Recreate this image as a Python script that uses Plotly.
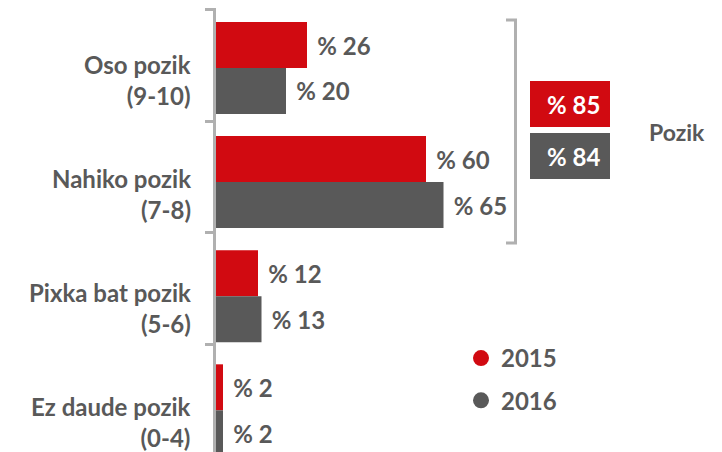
import plotly.graph_objects as go

categories = ["Oso pozik<br>(9-10)", "Nahiko pozik<br>(7-8)", "Pixka bat pozik<br>(5-6)", "Ez daude pozik<br>(0-4)"]
values_2015 = [26, 60, 12, 2]
values_2016 = [20, 65, 13, 2]
series_names = ["2015", "2016"]
pozik_totals = [85, 84]
pozik_label = "Pozik"

RED = "#D10A11"
GRAY = "#595959"
TXT = "#595959"
AXIS = "#B0B0B0"
FONT = "Lato"
FS = 24

OFF = 8  # page body margin offset
W, H = 722, 452
L, T, B = 216 - OFF, 0, 0
PH = H - T - B
PW = W - L

# vertical scales (window pixels)
BAR_STEP, BAR_C0 = 114.1, 68.0     # category spacing / first category centre
TICK_STEP, TICK_0 = 111.6, 9.5     # boundary tick spacing / first tick
top_win = OFF + T
r0 = -(BAR_C0 - top_win) / BAR_STEP
bar_range = [r0 + PH / BAR_STEP, r0]
t0 = -0.5 - (TICK_0 - top_win) / TICK_STEP
tick_range = [t0 + PH / TICK_STEP, t0]

def px(x):
    return (x - OFF - L) / PW

def py(y):
    return 1 - (y - OFF - T) / PH

fig = go.Figure()
for name, vals, col in [(series_names[0], values_2015, RED), (series_names[1], values_2016, GRAY)]:
    fig.add_trace(go.Bar(
        y=categories, x=vals, orientation="h", name=name,
        marker=dict(color=col, line=dict(width=0)),
        text=["\u00a0\u200a% " + str(v) for v in vals],
        textposition="outside",
        outsidetextfont=dict(family=FONT, size=FS, color=TXT, weight="bold"),
        cliponaxis=False, showlegend=False, hoverinfo="skip",
    ))

# carrier trace for the boundary-tick axis
fig.add_trace(go.Scatter(x=[None], y=[None], yaxis="y2", mode="markers",
                         showlegend=False, hoverinfo="skip"))

# legend entries as circles
for name, col in [(series_names[0], RED), (series_names[1], GRAY)]:
    fig.add_trace(go.Scatter(
        x=[None], y=[None], mode="markers", name=name,
        marker=dict(color=col, size=20, symbol="circle"),
        legendgroup=name, showlegend=True,
    ))

annotations = []
for c in categories:
    annotations.append(dict(
        x=0, y=c, xref="x", yref="y", text=c, showarrow=False,
        xanchor="right", yanchor="middle", align="right",
        xshift=-23, yshift=-12,
        font=dict(family=FONT, size=FS, color=TXT, weight="bold"),
    ))

# totals boxes
box_colors = [RED, GRAY]
box_tops = [81, 133]
shapes = []
for tot, col, top in zip(pozik_totals, box_colors, box_tops):
    shapes.append(dict(type="rect", xref="paper", yref="paper",
                       x0=px(530), x1=px(610), y0=py(top + 46), y1=py(top),
                       fillcolor=col, line=dict(width=0), layer="above"))
    annotations.append(dict(
        x=px(573), y=py(top + 23), xref="paper", yref="paper",
        text="% " + str(tot), showarrow=False, xanchor="center", yanchor="middle",
        font=dict(family=FONT, size=FS, color="white", weight="bold"),
    ))
annotations.append(dict(
    x=px(647), y=py(132), xref="paper", yref="paper", text=pozik_label,
    showarrow=False, xanchor="left", yanchor="middle",
    font=dict(family=FONT, size=FS - 1, color=TXT, weight="bold"),
))

# bracket
shapes.append(dict(
    type="path", xref="paper", yref="paper",
    path=f"M {px(506)} {py(20)} L {px(515.5)} {py(20)} L {px(515.5)} {py(243)} L {px(506)} {py(243)}",
    line=dict(color=AXIS, width=3),
))

fig.update_layout(
    width=W, height=H,
    margin=dict(l=L, r=0, t=T, b=B, autoexpand=False),
    paper_bgcolor="white", plot_bgcolor="white",
    barmode="group", bargap=0.194, bargroupgap=0,
    font=dict(family=FONT, color=TXT),
    xaxis=dict(range=[0, PW / 3.5], visible=False, fixedrange=True, automargin=False),
    yaxis=dict(
        type="category", range=bar_range, automargin=False,
        showticklabels=False, showgrid=False, zeroline=False, showline=False,
        ticks="",
    ),
    yaxis2=dict(
        overlaying="y", side="left", range=tick_range, automargin=False,
        showticklabels=False, showgrid=False, zeroline=False,
        showline=True, linecolor=AXIS, linewidth=3,
        tickmode="array", tickvals=[-0.5, 0.5, 1.5, 2.5, 3.5],
        ticks="outside", ticklen=8, tickwidth=3, tickcolor=AXIS,
    ),
    legend=dict(
        x=px(461), y=py(336), xanchor="left", yanchor="top",
        font=dict(family=FONT, size=FS, color=TXT, weight="bold"),
        bgcolor="rgba(0,0,0,0)", tracegroupgap=8, itemsizing="trace",
    ),
    annotations=annotations, shapes=shapes,
    showlegend=True,
)

fig.write_html("out.html")
